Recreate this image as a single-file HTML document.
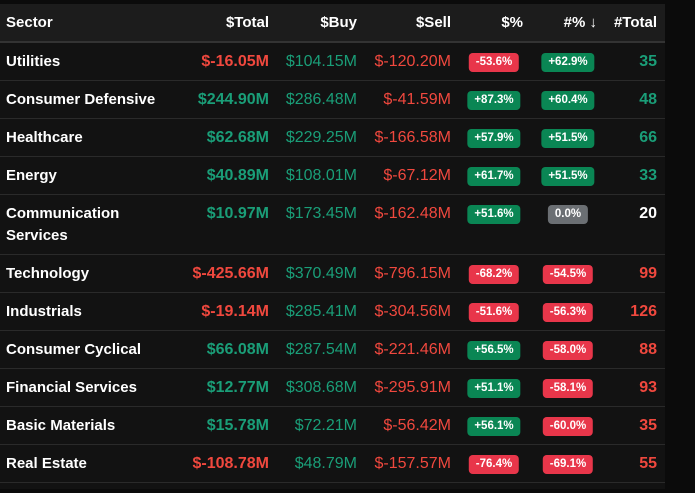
<!DOCTYPE html>
<html><head><style>
body{margin:0;width:695px;height:493px;background:#0b0b0b;font-family:"Liberation Sans",sans-serif;overflow:hidden;position:relative}
.tbl{position:absolute;left:0;top:4px;width:665px;height:485px;background:#121212}
.hdr{position:absolute;left:0;top:0;width:665px;height:37px;background:#1c1c1c;border-bottom:2px solid #333}
.row{position:absolute;left:0;width:665px;border-bottom:1px solid #2a2a2a}
.c{position:absolute;font-size:16px;white-space:nowrap}
.h{color:#fff;font-weight:bold;top:10px;font-size:15px}
.s{left:6px;color:#fff;font-weight:bold;line-height:22px;font-size:15px}
.r{text-align:right}
.g{color:#1a9e78}.rd{color:#f0483e}.w{color:#fff}
.b{font-weight:bold}
.bd{position:absolute;height:19px;line-height:19px;font-size:11.5px;font-weight:bold;color:#fff;border-radius:4px;padding:0 7px;transform:translateX(-50%)}
.bg{background:#0a8654}.br{background:#e8364a}.bx{background:#6b6f73}
</style></head><body>
<div class="tbl">
<div class="hdr">
<div class="c h" style="left:6px">Sector</div>
<div class="c h r" style="right:396px">$Total</div>
<div class="c h r" style="right:308px">$Buy</div>
<div class="c h r" style="right:214px">$Sell</div>
<div class="c h r" style="right:142px">$%</div>
<div class="c h r" style="right:68px">#% ↓</div>
<div class="c h r" style="right:8px">#Total</div>
</div>
<div id="rows"></div>
</div>
<script>
var d=[
["Utilities","$-16.05M","$104.15M","$-120.20M","-53.6%","+62.9%","35"],
["Consumer Defensive","$244.90M","$286.48M","$-41.59M","+87.3%","+60.4%","48"],
["Healthcare","$62.68M","$229.25M","$-166.58M","+57.9%","+51.5%","66"],
["Energy","$40.89M","$108.01M","$-67.12M","+61.7%","+51.5%","33"],
["Communication<br>Services","$10.97M","$173.45M","$-162.48M","+51.6%","0.0%","20"],
["Technology","$-425.66M","$370.49M","$-796.15M","-68.2%","-54.5%","99"],
["Industrials","$-19.14M","$285.41M","$-304.56M","-51.6%","-56.3%","126"],
["Consumer Cyclical","$66.08M","$287.54M","$-221.46M","+56.5%","-58.0%","88"],
["Financial Services","$12.77M","$308.68M","$-295.91M","+51.1%","-58.1%","93"],
["Basic Materials","$15.78M","$72.21M","$-56.42M","+56.1%","-60.0%","35"],
["Real Estate","$-108.78M","$48.79M","$-157.57M","-76.4%","-69.1%","55"]];
var y=39,h="";
d.forEach(function(r){
 var two=r[0].indexOf("<br>")>0,H=two?59:37;
 var tc=r[1].indexOf("-")>0?"rd":"g";
 var bc=function(v){return v=="0.0%"?"bx":(v[0]=="-"?"br":"bg")};
 var nc=r[6]=="20"?"w":(r[5][0]=="-"?"rd":"g");
 h+='<div class="row" style="top:'+y+'px;height:'+H+'px">'+
 '<div class="c s" style="top:8px">'+r[0]+'</div>'+
 '<div class="c r b '+tc+'" style="right:396px;top:10px">'+r[1]+'</div>'+
 '<div class="c r g" style="right:308px;top:10px">'+r[2]+'</div>'+
 '<div class="c r rd" style="right:214px;top:10px">'+r[3]+'</div>'+
 '<div class="bd '+bc(r[4])+'" style="left:494px;top:10px">'+r[4]+'</div>'+
 '<div class="bd '+bc(r[5])+'" style="left:568px;top:10px">'+r[5]+'</div>'+
 '<div class="c r b '+nc+'" style="right:8px;top:10px">'+r[6]+'</div></div>';
 y+=H+1;});
document.getElementById("rows").innerHTML=h;
</script>
</body></html>
